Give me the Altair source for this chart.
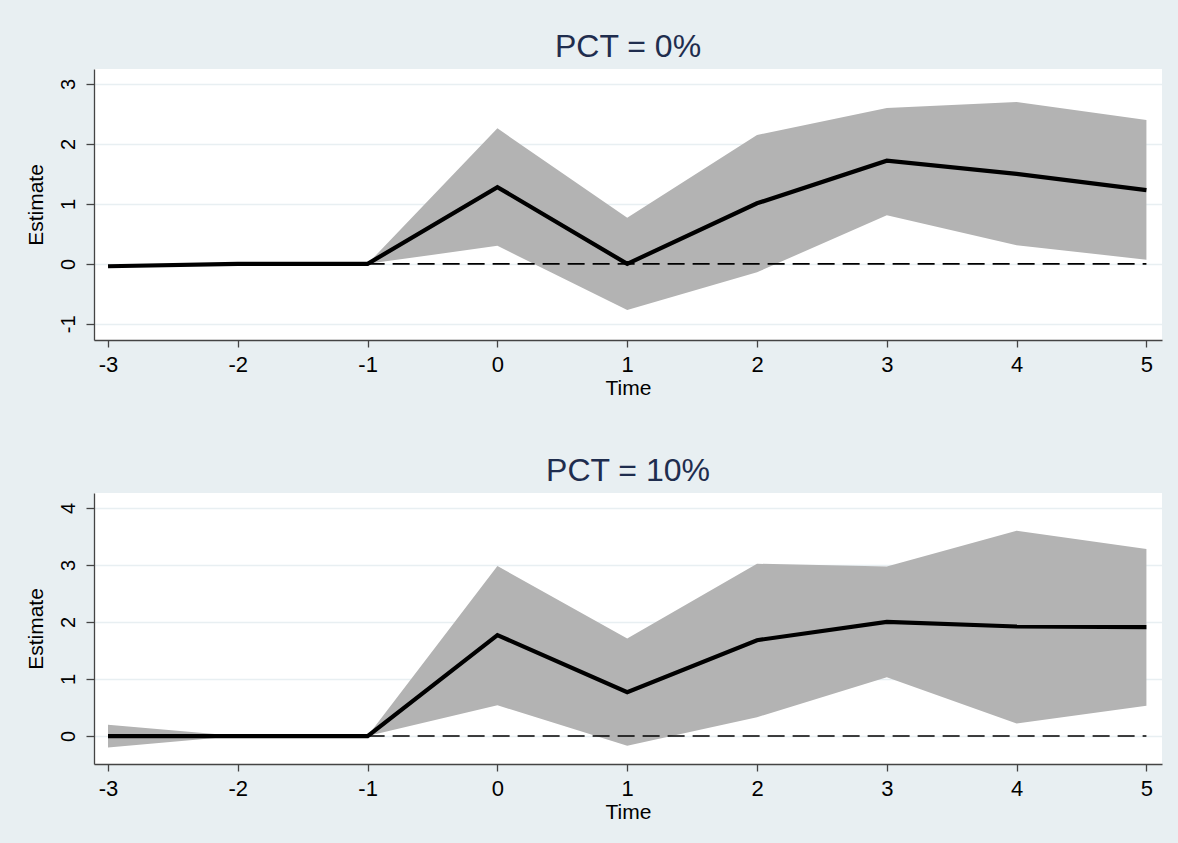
import altair as alt
import pandas as pd

time = [-3, -2, -1, 0, 1, 2, 3, 4, 5]
est0 = [-0.04, 0.0, 0.0, 1.28, 0.0, 1.01, 1.72, 1.50, 1.23]
lo0 = [-0.04, 0.0, 0.0, 0.30, -0.77, -0.14, 0.81, 0.31, 0.07]
hi0 = [-0.04, 0.0, 0.0, 2.26, 0.77, 2.15, 2.60, 2.70, 2.40]
est10 = [0.0, 0.0, 0.0, 1.77, 0.77, 1.68, 2.00, 1.92, 1.91]
lo10 = [-0.20, 0.0, 0.0, 0.54, -0.17, 0.33, 1.03, 0.22, 0.53]
hi10 = [0.20, 0.0, 0.0, 2.98, 1.71, 3.02, 2.97, 3.60, 3.28]
titles = ["PCT = 0%", "PCT = 10%"]
ydomains = [[-1.27, 3.25], [-0.49, 4.26]]
yticks = [[-1, 0, 1, 2, 3], [0, 1, 2, 3, 4]]
xdomain = [-3.108, 5.12]
ref_x = [-1, 5]

BG = "#e8eff2"
FONT = "Liberation Sans"
AX = dict(labelFont=FONT, titleFont=FONT, titleFontSize=21,
          labelColor="black", titleColor="black", titleFontWeight="normal",
          domainColor="#444444", tickColor="#444444", domainWidth=1.3,
          tickWidth=1.3, gridColor="#e8eff2", gridWidth=1.6,
          labelExpr="datum.value + ''")


def panel(est, lo, hi, title, ydom, yt):
    df = pd.DataFrame({"Time": time, "Estimate": est, "lo": lo, "hi": hi})
    ref = pd.DataFrame({"x": [ref_x[0]], "x2": [ref_x[1]], "y": [0]})
    xs = alt.Scale(domain=xdomain, nice=False, zero=False)
    ys = alt.Scale(domain=ydom, nice=False, zero=False)
    xax = alt.Axis(values=time, title="Time", grid=False, labelPadding=7,
                   titlePadding=2, labelFontSize=22, tickSize=7, **AX)
    yax = alt.Axis(values=yt, title="Estimate", grid=True, labelAngle=270,
                   labelPadding=8, titlePadding=12, labelFontSize=20,
                   tickSize=8, **AX)
    band = alt.Chart(df).mark_area(color="#b3b3b3", opacity=1).encode(
        x=alt.X("Time:Q", scale=xs, axis=xax),
        y=alt.Y("lo:Q", scale=ys, axis=yax),
        y2="hi:Q",
    )
    rule = alt.Chart(ref).mark_rule(color="black", strokeWidth=1.6,
                                    strokeDash=[17, 8]).encode(
        x=alt.X("x:Q", scale=xs), x2="x2:Q", y=alt.Y("y:Q", scale=ys)
    )
    line = alt.Chart(df).mark_line(color="black", strokeWidth=4.2).encode(
        x=alt.X("Time:Q", scale=xs),
        y=alt.Y("Estimate:Q", scale=ys),
    )
    return alt.layer(band, rule, line).properties(
        width=1068, height=271,
        title=alt.TitleParams(title, fontSize=32, color="#1f2d4e",
                              font=FONT, fontWeight="normal", offset=5),
    )


top = panel(est0, lo0, hi0, titles[0], ydomains[0], yticks[0])
bot = panel(est10, lo10, hi10, titles[1], ydomains[1], yticks[1])

chart = alt.vconcat(top, bot, spacing=57).properties(
    background=BG,
    padding={"left": 24, "top": 31, "right": 16, "bottom": 22},
).configure_view(fill="white", stroke=None)

chart.save("out.html", embed_options={"renderer": "svg", "actions": False})
